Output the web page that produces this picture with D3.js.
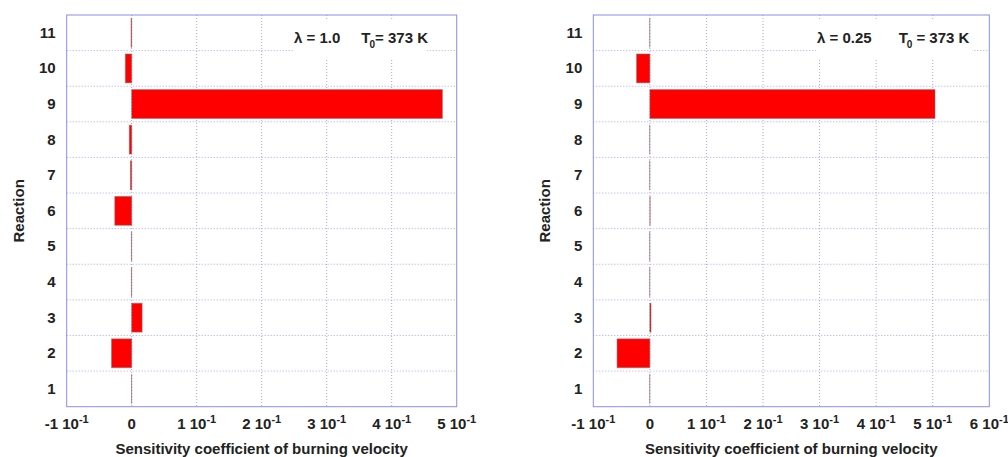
<!DOCTYPE html>
<html>
<head>
<meta charset="utf-8">
<script src="https://cdn.jsdelivr.net/npm/d3@7"></script>
<style>
  body { margin: 0; background: #fff; }
  svg { display: block; font-family: "Liberation Sans", Arial, sans-serif; font-weight: bold; }
</style>
</head>
<body>
<svg id="chart" width="1008" height="457"></svg>
<script>
// reactions, top to bottom
const reactions = [11, 10, 9, 8, 7, 6, 5, 4, 3, 2, 1];

// sensitivity coefficients, index = reaction number - 1
const sensLambda100 = [-0.0003, -0.031, 0.016, -0.0005, -0.0005, -0.026, -0.002, -0.0037, 0.478, -0.0098, -0.001];
const sensLambda025 = [-0.0003, -0.058, 0.002, -0.0003, -0.0003, 0.0005, -0.0003, -0.0003, 0.504, -0.0235, -0.0003];

const ticksLeft = [-0.1, 0, 0.1, 0.2, 0.3, 0.4, 0.5];
const ticksRight = [-0.1, 0, 0.1, 0.2, 0.3, 0.4, 0.5, 0.6];

const xTitle = "Sensitivity coefficient of burning velocity";
const yTitle = "Reaction";

const frameColor = "#8c8cf2";
const gridColor = "#a6a6f5";

const svg = d3.select("#chart");

function drawPanel(opts) {
  const { left, right, top, bottom, values, ticks, lambda, gap, boxX, boxW, titleX } = opts;
  const g = svg.append("g");

  const x = d3.scaleLinear().domain([ticks[0], ticks[ticks.length - 1]]).range([left, right]);
  const y = d3.scaleBand().domain(reactions).range([top, bottom])
    .paddingInner(0.19).paddingOuter(0.095);
  const step = y.step();

  // grid: vertical dotted
  g.selectAll(".vgrid")
    .data(ticks.slice(1, -1))
    .enter()
    .append("line")
    .attr("x1", (d) => x(d)).attr("x2", (d) => x(d))
    .attr("y1", top).attr("y2", bottom)
    .attr("stroke", gridColor)
    .attr("stroke-dasharray", "1,2");

  // grid: horizontal row boundaries
  g.selectAll(".hgrid")
    .data(reactions.slice(1))
    .enter()
    .append("line")
    .attr("x1", left).attr("x2", right)
    .attr("y1", (d) => y(d) - (step - y.bandwidth()) / 2)
    .attr("y2", (d) => y(d) - (step - y.bandwidth()) / 2)
    .attr("stroke", gridColor)
    .attr("stroke-dasharray", "1,2");

  // white box under the annotation
  g.append("rect")
    .attr("x", boxX).attr("y", top + 5)
    .attr("width", boxW).attr("height", 40)
    .attr("fill", "#fff");

  // bars
  g.selectAll(".bar")
    .data(reactions)
    .enter()
    .append("rect")
    .attr("class", "bar")
    .attr("x", (d) => x(Math.min(0, values[d - 1])))
    .attr("width", (d) => Math.abs(x(values[d - 1]) - x(0)))
    .attr("y", (d) => y(d))
    .attr("height", y.bandwidth())
    .attr("fill", "#ff0000")
    .attr("stroke", "#8a6a6a")
    .attr("stroke-opacity", 0.6)
    .attr("stroke-width", 0.9);

  // frame
  g.append("rect")
    .attr("x", left).attr("y", top)
    .attr("width", right - left).attr("height", bottom - top)
    .attr("fill", "none")
    .attr("stroke", frameColor);

  // y tick labels
  g.selectAll(".ylab")
    .data(reactions)
    .enter()
    .append("text")
    .attr("x", left - 11)
    .attr("y", (d) => y(d) + y.bandwidth() / 2 + 5)
    .attr("text-anchor", "end")
    .attr("font-size", 15)
    .attr("fill", "#222")
    .text((d) => d);

  // x tick labels, "n 10^-1" style
  const xl = g.selectAll(".xlab")
    .data(ticks)
    .enter()
    .append("text")
    .attr("x", (d) => x(d))
    .attr("y", 429)
    .attr("text-anchor", "middle")
    .attr("font-size", 15)
    .attr("fill", "#222");
  xl.each(function (d) {
    const t = d3.select(this);
    const n = Math.round(d * 10);
    if (n === 0) {
      t.text("0");
    } else {
      t.append("tspan").text(n + " 10");
      t.append("tspan").attr("font-size", 11).attr("dy", -6).text("-1");
    }
  });

  // axis titles
  g.append("text")
    .attr("x", (left + right) / 2)
    .attr("y", 454)
    .attr("text-anchor", "middle")
    .attr("font-size", 15)
    .attr("fill", "#222")
    .text(xTitle);

  g.append("text")
    .attr("transform", `translate(${titleX},${(top + bottom) / 2}) rotate(-90)`)
    .attr("text-anchor", "middle")
    .attr("font-size", 15)
    .attr("fill", "#222")
    .text(yTitle);

  // annotation
  const ann = g.append("text")
    .attr("x", boxX + 1)
    .attr("y", 43)
    .attr("font-size", 15)
    .attr("fill", "#222");
  ann.append("tspan").text(`λ = ${lambda}`);
  ann.append("tspan").attr("dx", gap).text("T");
  ann.append("tspan").attr("font-size", 10).attr("dx", -1).attr("dy", 5).text("0");
  ann.append("tspan").attr("dy", -5).attr("dx", opts.eqGap).text("= 373 K");
}

drawPanel({
  left: 66.7, right: 456.7, top: 15, bottom: 406.7,
  values: sensLambda100, ticks: ticksLeft, lambda: "1.0",
  gap: 21, eqGap: 0, boxX: 293, boxW: 134, titleX: 23.5
});

drawPanel({
  left: 593.3, right: 989.3, top: 15, bottom: 406.7,
  values: sensLambda025, ticks: ticksRight, lambda: "0.25",
  gap: 27, eqGap: 4, boxX: 816, boxW: 156, titleX: 550
});
</script>
</body>
</html>
